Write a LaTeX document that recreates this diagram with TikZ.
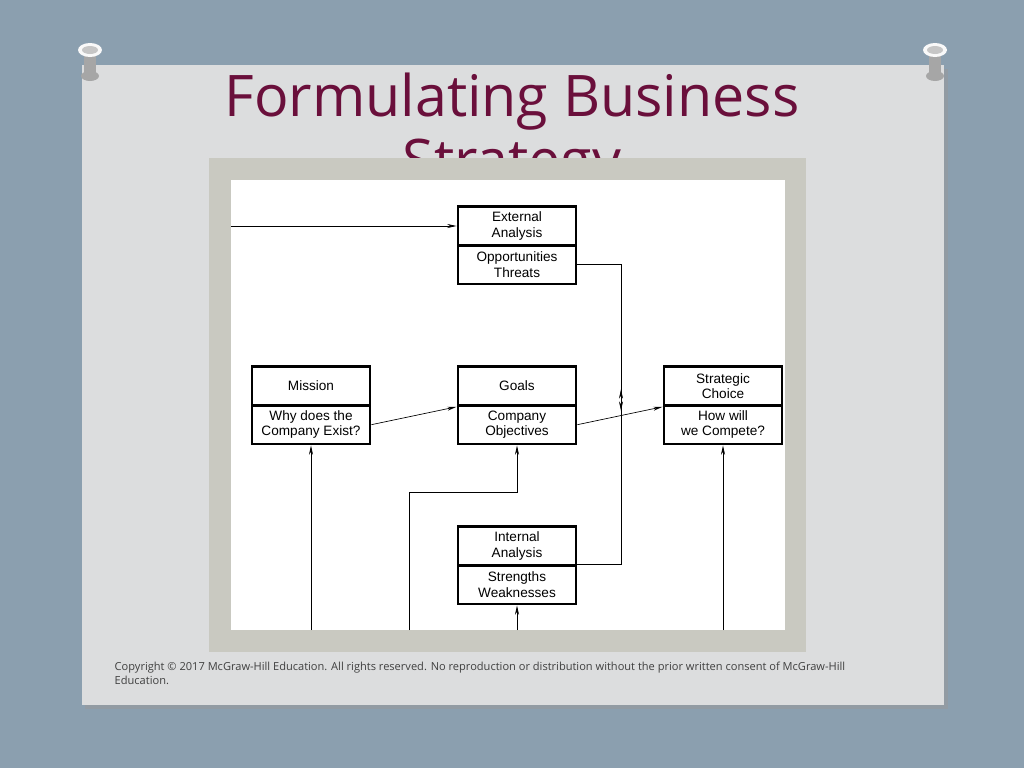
\documentclass[tikz,border=0pt]{standalone}
\usepackage{fontspec}
\setmainfont{Open Sans}
\newfontfamily\boxfont{Liberation Sans}
\usetikzlibrary{positioning, arrows.meta}
\definecolor{bgblue}{HTML}{8B9FAF}
\definecolor{card}{HTML}{DCDDDE}
\definecolor{frame}{HTML}{C9C9C1}
\definecolor{titlered}{HTML}{6A0F3B}
\tikzset{
  part/.style = {draw, line width=2.2pt, minimum width=88.5pt, minimum height=29pt,
    inner sep=0pt, align=center, font=\boxfont\fontsize{10.2}{11.6}\selectfont},
  link/.style = {draw, line width=0.5pt, -{Stealth[length=7pt, width=3pt]}},
  wire/.style = {draw, line width=0.5pt}
}
\begin{document}
\begin{tikzpicture}[x=0.75pt, y=-0.75pt]
  \useasboundingbox (0,0) rectangle (1024,768);
  %background
  \fill[bgblue] (0,0) rectangle (1024,768);
  \fill[black!40, opacity=.5] (85,69) rectangle (948,709);
  \fill[card] (82,65) rectangle (944,705);
  %pins
  \foreach \px in {90,935}{
    \fill[black!35] (\px,76) ellipse (9 and 5);
    \fill[gray!70] (\px-6,50) rectangle (\px+6,74);
    \fill[white!95!gray] (\px,50) ellipse (12 and 7);
    \fill[gray!45] (\px,50) ellipse (8 and 4);
  }
  %title
  \node[titlered, font=\fontsize{43}{48}\selectfont, align=center] (title) at (512,134)
    {Formulating Business\\Strategy};
  %picture frame
  \fill[frame] (209,158) rectangle (806,652);
  \fill[white] (231,180) rectangle (785,630);
  %boxes
  \node[part] (ext) at (517,226) {External\\Analysis};
  \node[part, below=-2.2pt of ext] (extb) {Opportunities\\Threats};
  \node[part] (mis) at (311,386) {Mission};
  \node[part, below=-2.2pt of mis] (misb) {Why does the\\Company Exist?};
  \node[part] (goa) at (517,386) {Goals};
  \node[part, below=-2.2pt of goa] (goab) {Company\\Objectives};
  \node[part] (str) at (723,386) {Strategic\\Choice};
  \node[part, below=-2.2pt of str] (strb) {How will\\we Compete?};
  \node[part] (int) at (517,546) {Internal\\Analysis};
  \node[part, below=-2.2pt of int] (intb) {Strengths\\Weaknesses};
  %connectors
  \coordinate (inext) at (231,226);
  \coordinate (join) at (621,400);
  \coordinate (inleft) at (409,630);
  \coordinate (inmis) at (311,630);
  \coordinate (inint) at (517,630);
  \coordinate (instr) at (723,630);
  \draw[link] (inext) -- (ext.west);
  \draw[link] (extb.east) -| ([yshift=-8]join);
  \draw[link] (intb.north east) -| ([yshift=8]join);
  \draw[link] (misb.east) -- (goa.south west);
  \draw[link] (goab.east) -- (str.south west);
  \draw[link] (inleft) |- (517,492) -- (goab.south);
  \draw[link] (inmis) -- (misb.south);
  \draw[link] (inint) -- (intb.south);
  \draw[link] (instr) -- (strb.south);
  %copyright
  \node[anchor=north west, text=black!75, align=left, font=\fontsize{8.3}{10.5}\selectfont]
    (copy) at (110,657) {Copyright \textcopyright{} 2017 McGraw-Hill Education. All rights reserved. No reproduction or distribution without the prior written consent of McGraw-Hill\\Education.};
\end{tikzpicture}
\end{document}
